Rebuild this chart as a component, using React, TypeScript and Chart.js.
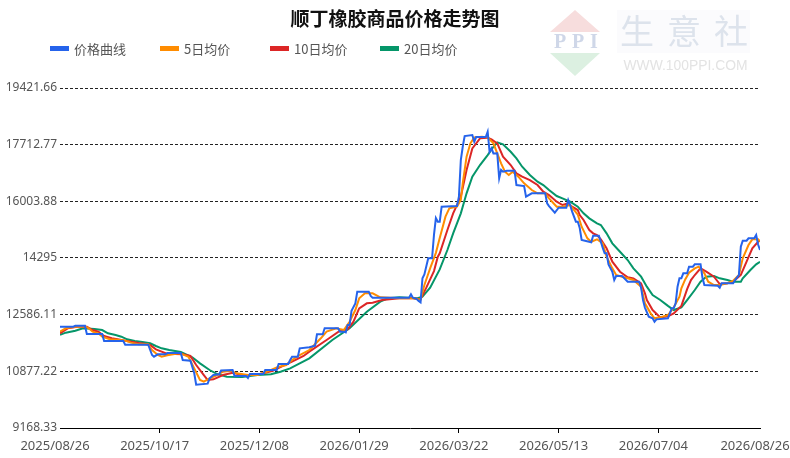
import React, { useEffect, useRef } from "react";
import { Chart, registerables } from "chart.js";

Chart.register(...registerables);

const TITLE = "顺丁橡胶商品价格走势图";
const seriesNames = ["价格曲线", "5日均价", "10日均价", "20日均价"];
const seriesColors = ["#2563eb", "#ff8c00", "#dc2626", "#059669"];

// x axis: day index from 2025/08/26 (0) to 2026/08/26 (365)
const xTickDays = [0, 52, 104, 156, 208, 260, 312, 365];
const xTickLabels = ["2025/08/26", "2025/10/17", "2025/12/08", "2026/01/29", "2026/03/22", "2026/05/13", "2026/07/04", "2026/08/26"];
const yTickValues = [9168.33, 10877.22, 12586.11, 14295, 16003.88, 17712.77, 19421.66];
const yTickLabels = ["9168.33", "10877.22", "12586.11", "14295", "16003.88", "17712.77", "19421.66"];

const priceDays = [0,7,8,13,14,22,23,33,34,46,48,49,51,55,56,63,64,68,70,71,77,78,80,83,84,90,91,97,98,99,106,107,113,114,119,120,121,124,125,130,133,134,137,138,145,146,148,149,150,151,152,154,155,161,162,163,182,183,184,186,187,188,189,190,192,194,195,196,197,198,199,207,208,209,210,211,215,216,217,222,223,224,225,226,228,229,230,231,233,237,238,242,243,246,253,254,255,258,260,264,265,266,267,269,270,271,272,277,278,281,282,283,284,285,286,288,289,290,293,294,296,302,303,304,305,307,309,310,311,317,318,319,320,321,322,323,324,325,327,328,330,331,334,335,336,343,344,345,351,352,354,355,356,358,359,362,363,364,365];
const priceValues = [12223,12223,12253,12253,12003,12003,11792,11792,11680,11680,11370,11318,11390,11390,11430,11430,11219,11200,10817,10475,10505,10667,10767,10787,10900,10917,10740,10740,10676,10796,10796,10917,10917,11098,11098,11219,11318,11318,11571,11601,11650,11994,11994,12175,12175,12073,12073,12050,12274,12274,12700,12928,13279,13279,13150,13098,13098,13200,13098,13058,13000,12958,13683,13800,14285,14285,14990,15500,15390,15390,15842,15863,16143,17249,17650,17973,18003,17802,17943,17943,18103,17500,17600,17450,17451,16700,16950,16897,16927,16927,16496,16465,16143,16245,16245,15943,15860,15660,15812,15812,16043,15894,15700,15390,15390,15200,14838,14768,14968,14968,14786,14600,14436,14436,14100,13882,13631,13752,13752,13700,13580,13580,13400,13028,12800,12525,12475,12374,12444,12475,12626,12777,12777,12928,13430,13682,13682,13833,13833,14033,14033,14104,14104,13700,13480,13460,13400,13530,13530,13631,13782,14635,14816,14816,14888,14888,14988,14700,14536];

const ma5Days = [0,3,8,13,15,17,20,22,26,30,34,37,41,46,48,51,53,56,62,64,67,70,73,75,78,82,85,89,92,98,103,108,113,118,121,125,130,136,139,144,148,151,154,156,159,163,167,177,184,188,190,193,196,198,201,203,207,209,210,212,214,216,220,223,226,228,230,232,234,236,239,242,246,249,253,255,259,262,266,270,272,275,277,280,283,285,288,290,293,296,299,303,305,308,310,313,317,320,323,324,326,328,331,333,336,338,341,344,348,351,354,356,359,361,364,365];
const ma5Values = [12073,12175,12223,12240,12175,12073,12023,11922,11843,11830,11802,11742,11692,11692,11520,11370,11318,11360,11420,11390,11318,10968,10616,10566,10667,10766,10867,10897,10817,10766,10766,10867,10998,11068,11219,11370,11520,11873,12073,12175,12123,12374,12726,13078,13229,13229,13108,13078,13078,13040,13480,13983,14450,14900,15541,15793,15842,16043,16546,17350,17753,17933,17953,17933,17753,17451,17149,16897,16797,16897,16747,16546,16345,16245,16245,16094,15842,15842,15893,15600,15239,14888,14786,14860,14737,14334,13983,13782,13732,13682,13631,13430,12928,12626,12475,12505,12575,12800,13128,13380,13650,13850,13983,14033,13833,13580,13480,13480,13531,13611,13782,14285,14687,14858,14858,14786];

const ma10Days = [0,4,9,14,17,20,23,27,30,34,38,41,44,47,50,53,56,60,64,68,71,75,77,80,85,90,95,101,106,111,116,121,127,130,139,146,150,153,156,160,163,168,177,184,188,191,195,197,198,202,205,209,212,215,219,223,225,228,231,235,238,241,245,249,252,255,259,262,265,267,270,271,273,275,276,278,280,282,285,288,292,296,299,303,305,306,309,313,317,320,324,327,329,331,334,337,341,344,348,351,355,358,361,364,365];
const ma10Values = [12023,12175,12223,12223,12123,12073,11943,11873,11843,11802,11762,11732,11712,11671,11541,11470,11400,11400,11390,11340,11068,10766,10616,10636,10766,10836,10766,10766,10817,10895,11037,11168,11340,11470,11822,12103,12144,12374,12777,12928,12947,13028,13078,13078,13050,13400,13900,14334,14436,15139,15642,16143,16948,17601,17903,17923,17873,17753,17350,17099,16847,16747,16646,16496,16295,16194,15993,15893,15943,15842,15742,15591,15441,15239,15139,15039,14988,14858,14587,14183,13882,13712,13682,13531,13229,13028,12726,12500,12535,12626,12850,13355,13631,13782,13983,13882,13732,13510,13531,13580,13782,14183,14587,14786,14820];

const ma20Days = [0,3,8,12,18,22,25,29,32,35,39,43,47,50,53,57,63,69,73,78,82,87,95,103,110,115,120,125,130,142,151,160,167,171,177,186,189,193,198,202,205,209,212,215,219,223,226,228,231,235,238,241,245,249,252,255,259,262,266,270,273,276,280,282,285,288,292,296,299,303,306,309,313,317,320,324,327,331,334,337,341,344,348,351,355,356,360,363,365];
const ma20Values = [11980,12043,12103,12175,12154,12123,12023,11973,11922,11843,11792,11762,11722,11641,11571,11520,11460,11300,11118,10917,10796,10715,10710,10766,10790,10866,10968,11118,11269,11822,12175,12676,12977,13078,13108,13078,13128,13400,13950,14536,15039,15642,16245,16747,17099,17400,17650,17783,17723,17500,17300,17048,16797,16596,16496,16345,16164,16094,15993,15842,15642,15491,15340,15290,15039,14737,14485,14234,13983,13732,13430,13179,13028,12850,12726,12807,13028,13329,13580,13732,13752,13682,13631,13580,13580,13682,13933,14104,14183];

const toPoints = (days: number[], values: number[]) => days.map((d, i) => ({ x: d, y: values[i] }));

const headerPlugin = {
  id: "header",
  beforeDraw(chart: any) {
    const ctx = chart.ctx;
    ctx.save();
    // watermark logo
    ctx.fillStyle = "#fbfbfd";
    ctx.fillRect(617, 10, 133, 43);
    ctx.fillStyle = "#f7dddd";
    ctx.beginPath();
    ctx.moveTo(575, 10);
    ctx.lineTo(600, 32);
    ctx.lineTo(550, 32);
    ctx.closePath();
    ctx.fill();
    ctx.fillStyle = "#dcf0e1";
    ctx.beginPath();
    ctx.moveTo(550, 53);
    ctx.lineTo(600, 53);
    ctx.lineTo(575, 76);
    ctx.closePath();
    ctx.fill();
    ctx.fillStyle = "#cfd7e8";
    ctx.font = "bold 20px 'Liberation Serif'";
    ctx.textAlign = "center";
    ctx.textBaseline = "middle";
    ctx.fillText("P", 560, 43);
    ctx.fillText("P", 578, 43);
    ctx.fillText("I", 594, 43);
    ctx.fillStyle = "#dde3ec";
    ctx.font = "34px 'Noto Sans CJK SC'";
    const logo = "生意社";
    [637, 684, 731].forEach((x, i) => ctx.fillText(logo[i], x, 31));
    ctx.fillStyle = "#e3e3e3";
    ctx.font = "15px 'Liberation Sans'";
    ctx.fillText("WWW.100PPI.COM", 685.5, 66, 124);

    // title
    ctx.fillStyle = "#111";
    ctx.font = "bold 19px 'Noto Sans CJK SC'";
    ctx.fillText(TITLE, 395, 19);

    // legend
    ctx.textAlign = "left";
    ctx.font = "13px 'Noto Sans CJK SC'";
    seriesNames.forEach((name, i) => {
      const x = 50 + i * 110;
      ctx.fillStyle = seriesColors[i];
      ctx.fillRect(x, 46, 19, 5);
      ctx.fillStyle = "#555";
      ctx.fillText(name, x + 24, 49.5);
    });
    ctx.restore();
  },
};

export default function App() {
  const canvasRef = useRef<HTMLCanvasElement | null>(null);

  useEffect(() => {
    document.body.style.margin = "0";
    const canvas = canvasRef.current;
    if (!canvas) return;
    const seriesData = [
      toPoints(priceDays, priceValues),
      toPoints(ma5Days, ma5Values),
      toPoints(ma10Days, ma10Values),
      toPoints(ma20Days, ma20Values),
    ];
    const chart = new Chart(canvas, {
      type: "line",
      data: {
        datasets: seriesData.map((data, i) => ({
          label: seriesNames[i],
          data,
          borderColor: seriesColors[i],
          backgroundColor: seriesColors[i],
          borderWidth: 2,
          pointRadius: 0,
          tension: 0,
          fill: false,
        })),
      },
      options: {
        responsive: false,
        animation: false,
        layout: { padding: { top: 88, right: 30, left: 0, bottom: 0 } },
        plugins: {
          legend: { display: false },
          title: { display: false },
          tooltip: { enabled: false },
        },
        scales: {
          x: {
            type: "linear",
            min: 0,
            max: 365,
            afterBuildTicks: (s: any) => {
              s.ticks = xTickDays.map((v) => ({ value: v }));
            },
            afterFit: (s: any) => {
              s.height = 30;
              s.paddingLeft = 0;
              s.paddingRight = 0;
            },
            ticks: {
              autoSkip: false,
              maxRotation: 0,
              labelOffset: -5,
              padding: 5,
              color: "#555",
              font: { family: "'Noto Sans'", size: 13 },
              callback: (_v: any, i: number) => xTickLabels[i],
            },
            grid: {
              drawOnChartArea: false,
              drawTicks: true,
              tickLength: 5,
              color: (c: any) =>
                c.index === 0 || c.index === xTickDays.length - 1 ? "rgba(0,0,0,0)" : "#000",
            },
            border: { display: true, color: "#000", width: 1 },
          },
          y: {
            min: 9168.33,
            max: 19421.66,
            afterBuildTicks: (s: any) => {
              s.ticks = yTickValues.map((v) => ({ value: v }));
            },
            afterFit: (s: any) => {
              s.width = 60;
              s.paddingTop = 0;
              s.paddingBottom = 0;
            },
            ticks: {
              padding: 3,
              color: "#555",
              font: { family: "'Noto Sans'", size: 12 },
              callback: (_v: any, i: number) => yTickLabels[i],
            },
            grid: {
              drawTicks: false,
              lineWidth: 1,
              color: (c: any) => (c.index === 0 ? "rgba(0,0,0,0)" : "#222"),
            },
            border: { display: false, dash: [3, 2] },
          },
        },
      },
      plugins: [headerPlugin],
    } as any);
    return () => chart.destroy();
  }, []);

  return (
    <div style={{ width: 790, height: 458, background: "#fff" }}>
      <canvas ref={canvasRef} width={790} height={458} style={{ display: "block" }} />
    </div>
  );
}
